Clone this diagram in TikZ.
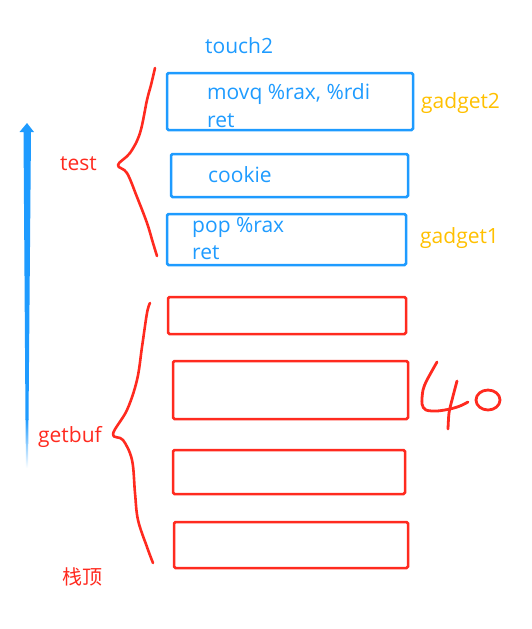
\documentclass[tikz,border=0pt]{standalone}
\usepackage{fontspec}
\setmainfont{Open Sans}
\newfontfamily\cjk{Noto Sans CJK SC}
\usepackage{tikz}
\usetikzlibrary{positioning}
\definecolor{stackblue}{HTML}{1E9BFF}
\definecolor{stackred}{HTML}{FF2A1F}
\definecolor{gold}{HTML}{FFC000}
\tikzset{
  bluebox/.style={draw=stackblue,line width=2.5pt,rounded corners=1.5pt,inner sep=0pt},
  redbox/.style={draw=stackred,line width=2.5pt,rounded corners=1.5pt,inner sep=0pt},
  txt/.style={anchor=base west,inner sep=0pt,font=\fontsize{21}{25}\selectfont},
  brace/.style={draw=stackred,line width=2.6pt,line join=round,line cap=round},
}
\begin{document}
\begin{tikzpicture}[x=1pt,y=-1pt]
\useasboundingbox (0,0) rectangle (532,629);
% stack slots
\node[bluebox,minimum width=246pt,minimum height=57pt] (g2) at (290,101.5) {};
\node[bluebox,minimum width=237pt,minimum height=43pt] (ck) at (289.5,175.5) {};
\node[bluebox,minimum width=239pt,minimum height=51pt] (g1) at (286.5,239.5) {};
\node[redbox,minimum width=238pt,minimum height=37pt] (b1) at (287,315.5) {};
\node[redbox,minimum width=235pt,minimum height=58pt] (b2) at (290.5,390) {};
\node[redbox,minimum width=232pt,minimum height=44pt] (b3) at (289,472) {};
\node[redbox,minimum width=234pt,minimum height=46pt] (b4) at (291,545) {};
% slot texts
\node[txt,stackblue] (t2) at (205,53) {touch2};
\node[txt,stackblue] (mov) at (207,99) {movq \%rax, \%rdi};
\node[txt,stackblue] (ret2) at (207,127) {ret};
\node[txt,stackblue] (cookie) at (208,182) {cookie};
\node[txt,stackblue] (pop) at (192,232) {pop \%rax};
\node[txt,stackblue] (ret1) at (192,259) {ret};
\node[txt,gold] (lg2) at (421,108) {gadget2};
\node[txt,gold] (lg1) at (420,243) {gadget1};
\node[txt,stackred] (test) at (60,170) {test};
\node[txt,stackred] (getbuf) at (38,442) {getbuf};
\node[stackred,inner sep=0pt,font=\cjk\fontsize{20}{23}\selectfont] (top) at (82,577) {栈顶};
% braces
\draw[brace] plot[smooth,tension=0.6] coordinates {(155,68) (151,85) (147,100) (140,133)
  (130,153) (118,165) (127,173) (137,197) (147,223) (153,243) (157,256)};
\draw[brace] plot[smooth,tension=0.6] coordinates {(150,303) (147,313) (142,347) (137,380)
  (127,410) (113,434) (123,440) (132,460) (135,493) (138,520) (147,547) (153,563)};
% growth arrow
\fill[stackblue] (27,123) -- (34,132) -- (31,132) -- (28.5,420) -- (25.5,420)
  -- (23.5,132) -- (19.5,132) -- cycle;
\shade[top color=stackblue,bottom color=white] (28.5,419.5) -- (28,468) -- (26,468)
  -- (25.5,419.5) -- cycle;
% hand-written 40
\draw[brace,line width=2.8pt] plot[smooth,tension=0.5] coordinates {(437,362) (427,380)
  (423,390) (422,404) (426,410) (437,411) (450,409) (460,406) (468,402)};
\draw[brace,line width=2.8pt] plot[smooth] coordinates {(457,381) (452,400) (449,413) (448,429)};
\draw[brace,line width=2.8pt] (488,400) ellipse [x radius=12pt,y radius=10pt];
\end{tikzpicture}
\end{document}
